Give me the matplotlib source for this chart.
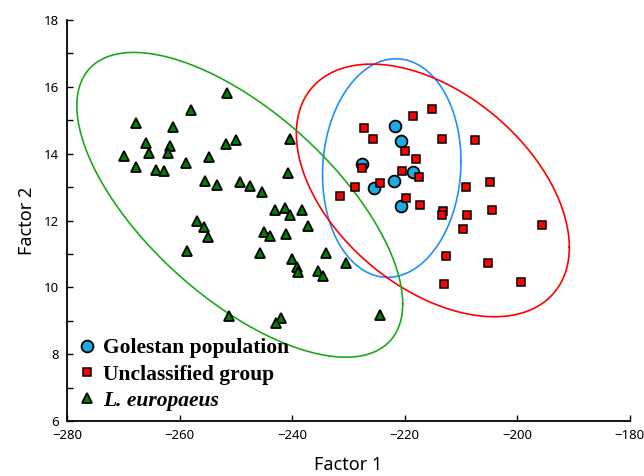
import numpy as np
import matplotlib
matplotlib.use("Agg")
import matplotlib.pyplot as plt
from matplotlib.lines import Line2D

# factor scores per group
golestan_x = [-221.8, -220.6, -227.5, -218.5, -221.9, -225.5, -220.7]
golestan_y = [14.82, 14.38, 13.70, 13.45, 13.19, 12.96, 12.43]

unclassified_x = [-215.2, -218.5, -227.2, -225.7, -213.3, -207.5, -219.9, -218.0,
                  -227.6, -220.5, -217.4, -224.3, -228.9, -231.5, -219.7, -217.3,
                  -209.1, -213.2, -213.4, -209.0, -209.6, -204.8, -204.4, -195.6,
                  -212.6, -205.2, -213.0, -199.4]
unclassified_y = [15.35, 15.12, 14.78, 14.43, 14.43, 14.41, 14.07, 13.83,
                  13.56, 13.49, 13.29, 13.11, 13.00, 12.72, 12.68, 12.47,
                  13.00, 12.28, 12.17, 12.15, 11.75, 13.15, 12.31, 11.87,
                  10.94, 10.72, 10.09, 10.17]

europaeus_x = [-267.7, -251.6, -258.0, -261.2, -266.0, -261.7, -265.5, -262.1,
               -269.8, -267.7, -264.1, -262.8, -258.9, -254.8, -251.7, -250.0,
               -240.4, -240.8, -255.4, -253.4, -249.3, -247.5, -245.3, -243.1,
               -241.3, -240.3, -238.2, -237.1, -256.9, -255.6, -254.9, -258.6,
               -245.0, -243.9, -241.1, -245.7, -240.0, -239.1, -239.0, -233.9,
               -235.4, -234.6, -230.4, -224.3, -251.2, -242.0, -242.8]
europaeus_y = [14.93, 15.81, 15.31, 14.79, 14.31, 14.24, 14.02, 14.01,
               13.92, 13.60, 13.51, 13.49, 13.71, 13.90, 14.29, 14.40,
               14.43, 13.42, 13.17, 13.05, 13.14, 13.03, 12.84, 12.31,
               12.36, 12.16, 12.31, 11.83, 11.98, 11.81, 11.52, 11.10,
               11.65, 11.54, 11.60, 11.02, 10.86, 10.60, 10.47, 11.02,
               10.49, 10.34, 10.74, 9.18, 9.14, 9.08, 8.92]

# confidence ellipses: centre, half ranges along each factor, correlation
ell_cx = [-222.3, -215.0, -249.3]
ell_cy = [13.57, 12.90, 12.47]
ell_sx = [12.3, 24.25, 28.95]
ell_sy = [3.27, 3.78, 4.56]
ell_r = [0.06, -0.45, -0.65]
ell_colors = ['#1E90FF', '#FF0000', '#1AAA1A']

labels = ['Golestan population', 'Unclassified group', 'L. europaeus']

fig = plt.figure(figsize=(6.44, 4.76), dpi=100)
ax = fig.add_axes([0.104, 0.1155, 0.874, 0.8425])

t = np.linspace(0, 2 * np.pi, 400)
for cx, cy, sx, sy, r, c in zip(ell_cx, ell_cy, ell_sx, ell_sy, ell_r, ell_colors):
    ex = cx + sx * np.cos(t)
    ey = cy + sy * (r * np.cos(t) + np.sqrt(1 - r ** 2) * np.sin(t))
    ax.plot(ex, ey, color=c, lw=1.2, zorder=2)

ax.plot(europaeus_x, europaeus_y, '^', ms=7.5, mfc='#008000', mec='black', mew=1.3, zorder=3)
ax.plot(golestan_x, golestan_y, 'o', ms=8.5, mfc='#1AACE3', mec='black', mew=1.3, zorder=4)
ax.plot(unclassified_x, unclassified_y, 's', ms=6, mfc='#FF0000', mec='black', mew=1.1, zorder=5)

ax.set_xlim(-280, -180)
ax.set_ylim(6, 18)
ax.set_xticks(np.arange(-280, -179, 20))
ax.set_yticks(np.arange(6, 19, 2))
ax.set_yticks(np.arange(7, 18, 2), minor=True)
ax.tick_params(direction='in', length=4, width=1, labelsize=9.5, pad=6)
ax.tick_params(which='minor', direction='in', length=4, width=1)
for lab in ax.get_xticklabels() + ax.get_yticklabels():
    lab.set_fontfamily('Noto Sans')
for s in ['top', 'right']:
    ax.spines[s].set_visible(False)
for s in ['left', 'bottom']:
    ax.spines[s].set_linewidth(1.3)

ax.set_xlabel('Factor 1', fontsize=13, family='Noto Sans', labelpad=10)
ax.set_ylabel('Factor 2', fontsize=13, family='Noto Sans', labelpad=5)

handles = [
    Line2D([], [], ls='none', marker='o', ms=8.5, mfc='#1AACE3', mec='black', mew=1.3),
    Line2D([], [], ls='none', marker='s', ms=6, mfc='#FF0000', mec='black', mew=1.1),
    Line2D([], [], ls='none', marker='^', ms=7.5, mfc='#008000', mec='black', mew=1.3),
]
leg = ax.legend(handles, labels, loc='upper left', bbox_to_anchor=(0.02, 0.206),
                frameon=False, borderpad=0, borderaxespad=0, handlelength=0.8,
                handletextpad=0.34, labelspacing=0.28,
                prop={'family': 'Liberation Serif', 'weight': 'bold', 'size': 15.5})
leg.get_texts()[2].set_style('italic')

fig.savefig('out.png', dpi=100)
